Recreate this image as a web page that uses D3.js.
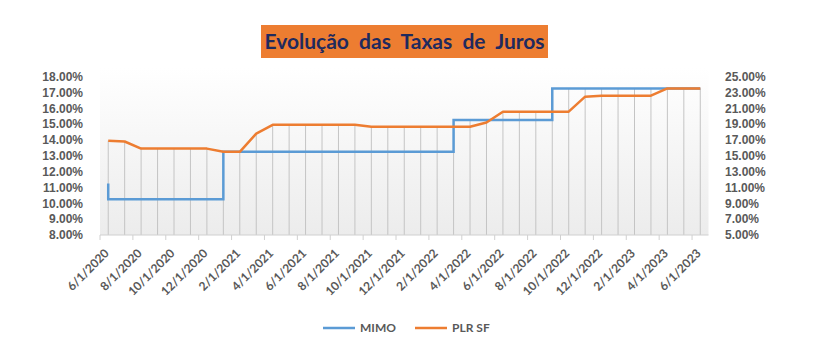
<!DOCTYPE html>
<html lang="pt">
<head>
    <meta charset="UTF-8">
    <title>Evolução das Taxas de Juros</title>
    <script src="https://cdn.jsdelivr.net/npm/d3@7"></script>
    <style>
        body { margin: 0; background: #fff; }
        svg { display: block; font-family: Lato, "Open Sans", sans-serif; }
        .lbl { font-size: 12px; font-weight: bold; fill: #595959; }
    </style>
</head>
<body>
<svg></svg>
<script>
    // DATA
    // monthly categories on the x axis
    const months = [
        "6/1/2020", "7/1/2020", "8/1/2020", "9/1/2020", "10/1/2020", "11/1/2020", "12/1/2020",
        "1/1/2021", "2/1/2021", "3/1/2021", "4/1/2021", "5/1/2021", "6/1/2021", "7/1/2021",
        "8/1/2021", "9/1/2021", "10/1/2021", "11/1/2021", "12/1/2021", "1/1/2022", "2/1/2022",
        "3/1/2022", "4/1/2022", "5/1/2022", "6/1/2022", "7/1/2022", "8/1/2022", "9/1/2022",
        "10/1/2022", "11/1/2022", "12/1/2022", "1/1/2023", "2/1/2023", "3/1/2023", "4/1/2023",
        "5/1/2023", "6/1/2023"
    ];

    // PLR SF, one value per month (%)
    const plrSF = [
        13.95, 13.90, 13.45, 13.45, 13.45, 13.45, 13.45, 13.25, 13.25, 14.40,
        14.95, 14.95, 14.95, 14.95, 14.95, 14.95, 14.83, 14.83, 14.83, 14.83,
        14.83, 14.83, 14.83, 15.10, 15.78, 15.78, 15.78, 15.78, 15.78, 16.73,
        16.79, 16.79, 16.79, 16.79, 17.25, 17.25, 17.25
    ];

    // MIMO changes as steps: month of change and new rate (%)
    const mimoMonths = ["6/1/2020", "6/1/2020", "1/1/2021", "3/1/2022", "9/1/2022", "6/1/2023"];
    const mimoRates  = [11.25, 10.25, 13.25, 15.25, 17.25, 17.25];

    // axis ticks
    const leftTicks  = [8, 9, 10, 11, 12, 13, 14, 15, 16, 17, 18];
    const rightTicks = [5, 7, 9, 11, 13, 15, 17, 19, 21, 23, 25];
    const xLabels = months.filter((d, i) => i % 2 === 0);

    const title = "Evolução  das  Taxas  de  Juros";
    const series = ["MIMO", "PLR SF"];
    const colors = ["#5B9BD5", "#ED7D31"];

    // CHART dimensions
    const W = 827, H = 351;
    const plot = {left: 100, right: 708.5, top: 68, bottom: 235};

    const svg = d3.select("svg").attr("width", W).attr("height", H);

    // SCALES
    const x = d3.scaleBand().domain(months).range([plot.left, plot.right]).padding(0);
    const cx = d => x(d) + x.bandwidth() / 2;
    const yL = d3.scaleLinear().domain([8, 18]).range([plot.bottom, 76.5]);
    const yR = d3.scaleLinear().domain([5, 25]).range([plot.bottom, 76.5]);
    const pct = v => d3.format(".2f")(v) + "%";

    // plot area background (fades from white to light gray)
    const grad = svg.append("defs").append("linearGradient")
        .attr("id", "bg").attr("x1", 0).attr("y1", 0).attr("x2", 0).attr("y2", 1);
    grad.append("stop").attr("offset", "0%").attr("stop-color", "#ffffff");
    grad.append("stop").attr("offset", "100%").attr("stop-color", "#ececec");
    svg.append("rect")
        .attr("x", plot.left).attr("y", plot.top)
        .attr("width", plot.right - plot.left).attr("height", plot.bottom - plot.top)
        .attr("fill", "url(#bg)");

    // MIMO rate in force at a month (highest value if it changes that month)
    function mimoAt(i) {
        const same = mimoMonths.map((m, j) => months.indexOf(m) === i ? mimoRates[j] : null)
                               .filter(v => v !== null);
        if (same.length) return d3.max(same);
        let v = null;
        mimoMonths.forEach((m, j) => { if (months.indexOf(m) < i) v = mimoRates[j]; });
        return v;
    }

    // drop lines from the highest point down to the axis
    svg.append("g").selectAll("line")
        .data(months)
        .join("line")
            .attr("x1", d => cx(d)).attr("x2", d => cx(d))
            .attr("y1", (d, i) => yL(d3.max([plrSF[i], mimoAt(i)])))
            .attr("y2", plot.bottom)
            .attr("stroke", "#c4c4c4").attr("stroke-width", 1);

    // X AXIS
    const xAxis = svg.append("g").attr("transform", `translate(0,${plot.bottom})`);
    xAxis.append("line")
        .attr("x1", plot.left).attr("x2", plot.right)
        .attr("stroke", "#d0d0d0");
    xAxis.selectAll(".tk")
        .data(xLabels)
        .join("line")
            .attr("class", "tk")
            .attr("x1", d => x(d)).attr("x2", d => x(d))
            .attr("y1", 0).attr("y2", 5)
            .attr("stroke", "#d0d0d0");
    xAxis.selectAll("text")
        .data(xLabels)
        .join("text")
            .attr("class", "lbl")
            .attr("text-anchor", "end")
            .attr("transform", d => `translate(${cx(d) + 1.5},${19}) rotate(-45)`)
            .text(d => d);

    // Y AXES
    const leftAxis = svg.append("g")
        .attr("transform", `translate(${83},0)`)
        .call(d3.axisLeft(yL).tickValues(leftTicks).tickSize(0).tickPadding(0).tickFormat(pct));
    leftAxis.select(".domain").remove();
    const rightAxis = svg.append("g")
        .attr("transform", `translate(${725},0)`)
        .call(d3.axisRight(yR).tickValues(rightTicks).tickSize(0).tickPadding(0).tickFormat(pct));
    rightAxis.select(".domain").remove();
    svg.selectAll(".tick text").attr("class", "lbl").attr("font-family", null).attr("font-size", null);

    // LINES
    const mimoLine = d3.line()
        .x(d => cx(d[0])).y(d => yL(d[1]))
        .curve(d3.curveStepAfter);
    svg.append("path")
        .datum(d3.zip(mimoMonths, mimoRates))
        .attr("d", mimoLine)
        .attr("fill", "none").attr("stroke", colors[0]).attr("stroke-width", 2.5);

    const plrLine = d3.line()
        .x((d, i) => cx(months[i])).y(d => yL(d));
    svg.append("path")
        .datum(plrSF)
        .attr("d", plrLine)
        .attr("fill", "none").attr("stroke", colors[1]).attr("stroke-width", 2.5)
        .attr("stroke-linejoin", "round");

    // TITLE
    svg.append("rect")
        .attr("x", 261).attr("y", 25).attr("width", 287).attr("height", 33)
        .attr("fill", "#ED7D31");
    svg.append("text")
        .attr("x", 404.5).attr("y", 49)
        .attr("text-anchor", "middle")
        .style("white-space", "pre")
        .attr("font-size", 21).attr("font-weight", "bold").attr("fill", "#1F2A5E")
        .text(title);

    // LEGEND
    const legX = [323, 415];
    const leg = svg.append("g").selectAll("g")
        .data(series)
        .join("g")
            .attr("transform", (d, i) => `translate(${legX[i]},328)`);
    leg.append("line")
        .attr("x1", 0).attr("x2", 32)
        .attr("stroke", (d, i) => colors[i]).attr("stroke-width", 2.5);
    leg.append("text")
        .attr("class", "lbl")
        .attr("x", 37).attr("dy", "0.35em")
        .text(d => d);
</script>
</body>
</html>
